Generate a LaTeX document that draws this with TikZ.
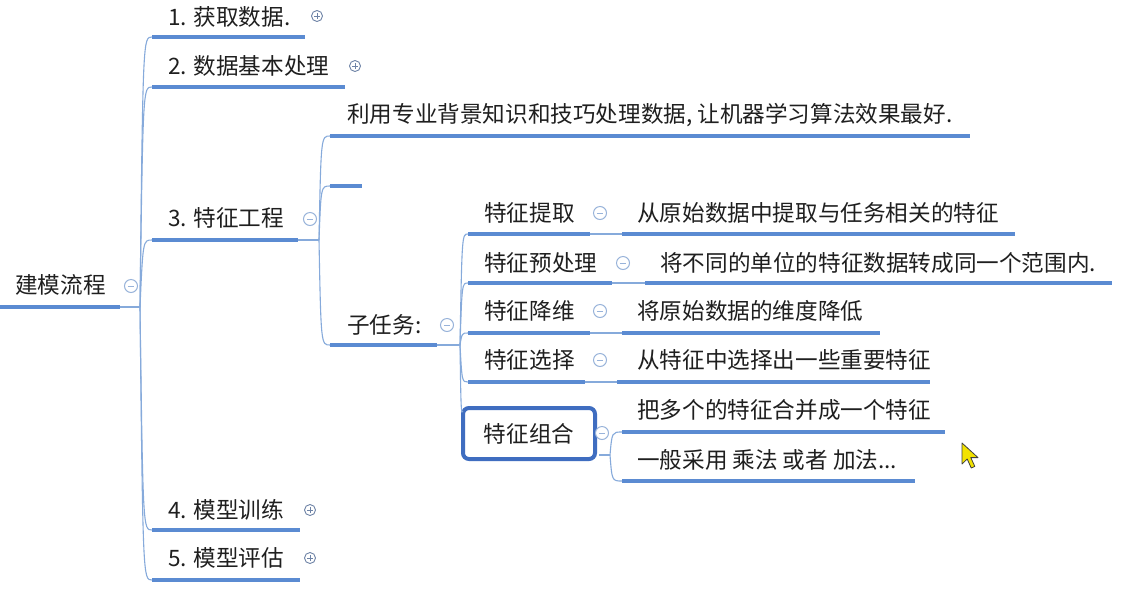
\documentclass[tikz,border=0pt]{standalone}
\usepackage{fontspec}
\setmainfont{Noto Sans CJK SC}
\definecolor{ulc}{HTML}{5B8BD2}
\definecolor{lnc}{HTML}{86AADB}
\definecolor{boxc}{HTML}{3F6DC0}
\definecolor{plc}{HTML}{6E83A6}
\definecolor{mic}{HTML}{98B3DA}
\definecolor{curc}{HTML}{F2E200}
\begin{document}
\begin{tikzpicture}[x=1pt,y=-1pt,
  txt/.style={anchor=west, inner sep=0pt, font=\fontsize{22.6}{26}\selectfont, text=black!88},
  ul/.style={draw=ulc, line width=3.5pt},
  thin/.style={draw=lnc, line width=1.1pt},
  plusicon/.style={circle, draw=plc, fill=white, line width=0.9pt, minimum size=11pt, inner sep=0pt,
    path picture={\draw[plc, line width=0.9pt] ([xshift=-2.8pt]path picture bounding box.center) -- ([xshift=2.8pt]path picture bounding box.center);
                  \draw[plc, line width=0.9pt] ([yshift=-2.8pt]path picture bounding box.center) -- ([yshift=2.8pt]path picture bounding box.center);}},
  minusicon/.style={circle, draw=mic, fill=white, line width=1pt, minimum size=13pt, inner sep=0pt,
    path picture={\draw[mic, line width=1pt] ([xshift=-3.2pt]path picture bounding box.center) -- ([xshift=3.2pt]path picture bounding box.center);}},
  boxnode/.style={draw=boxc, fill=white, line width=4pt, rounded corners=6pt, minimum width=132pt, minimum height=51pt, inner sep=0pt, font=\fontsize{22.6}{26}\selectfont, text=black!88}
]
\fill[white] (0,0) rectangle (1134,590);
\useasboundingbox (0,0) rectangle (1134,590);

% ---------- root ----------
\node[txt] (r) at (15,285) {建模流程};
\coordinate (r0) at (0,307);
\coordinate (r1) at (120,307);
\coordinate (rj) at (140,307);
\draw[ul] (r0) -- (r1);
\draw[thin] (r1) -- (rj);

% ---------- level 1 ----------
\node[txt] (t1) at (168,17) {1. 获取数据.};
\coordinate (t1s) at (152,37); \coordinate (t1e) at (305,37);
\node[txt] (t2) at (168,66) {2. 数据基本处理};
\coordinate (t2s) at (152,87); \coordinate (t2e) at (345,87);
\node[txt] (t3) at (168,218) {3. 特征工程};
\coordinate (t3s) at (152,240); \coordinate (t3e) at (298,240);
\node[txt] (t4) at (168,510) {4. 模型训练};
\coordinate (t4s) at (152,530); \coordinate (t4e) at (300,530);
\node[txt] (t5) at (168,558) {5. 模型评估};
\coordinate (t5s) at (152,580); \coordinate (t5e) at (300,580);

\foreach \n in {t1,t2,t3,t4,t5}{
  \draw[thin] (rj) .. controls ([xshift=3pt]rj |- \n s) .. (\n s);
  \draw[ul] (\n s) -- (\n e);
}

% ---------- level 2 (under 3) ----------
\coordinate (j3) at (319,240);
\draw[thin] (t3e) -- (j3);
\node[txt] (a) at (347,115) {利用专业背景知识和技巧处理数据, 让机器学习算法效果最好.};
\coordinate (as) at (330,136); \coordinate (ae) at (970,136);
\coordinate (bs) at (330,186); \coordinate (be) at (362,186);
\node[txt] (c) at (347,325) {子任务:};
\coordinate (cs) at (330,345); \coordinate (ce) at (437,345);
\foreach \n in {a,b,c}{
  \draw[thin] (j3) .. controls ([xshift=2pt]j3 |- \n s) .. (\n s);
  \draw[ul] (\n s) -- (\n e);
}

% ---------- level 3 (under 子任务) ----------
\coordinate (jc) at (460,345);
\draw[thin] (ce) -- (jc);

\node[txt] (d1) at (484,213) {特征提取};
\coordinate (d1s) at (468,234); \coordinate (d1e) at (590,234);
\node[txt] (d2) at (484,263) {特征预处理};
\coordinate (d2s) at (468,283); \coordinate (d2e) at (612,283);
\node[txt] (d3) at (484,311) {特征降维};
\coordinate (d3s) at (468,333); \coordinate (d3e) at (590,333);
\node[txt] (d4) at (484,360) {特征选择};
\coordinate (d4s) at (468,382); \coordinate (d4e) at (585,382);
\foreach \n in {d1,d2,d3,d4}{
  \draw[thin] (jc) .. controls ([xshift=2pt]jc |- \n s) .. (\n s);
  \draw[ul] (\n s) -- (\n e);
}
\node[boxnode] (d5) at (529,433.5) {特征组合};
\coordinate (d5in) at (463,412);
\draw[thin] (jc) .. controls ([xshift=1pt]jc |- d5in) .. (d5in);

% ---------- level 4 ----------
\node[txt] (e1) at (637,213) {从原始数据中提取与任务相关的特征};
\coordinate (e1s) at (622,234); \coordinate (e1e) at (1015,234);
\node[txt] (e2) at (660,263) {将不同的单位的特征数据转成同一个范围内.};
\coordinate (e2s) at (645,283); \coordinate (e2e) at (1112,283);
\node[txt] (e3) at (637,311) {将原始数据的维度降低};
\coordinate (e3s) at (622,333); \coordinate (e3e) at (880,333);
\node[txt] (e4) at (637,360) {从特征中选择出一些重要特征};
\coordinate (e4s) at (617,382); \coordinate (e4e) at (930,382);
\draw[thin] (d1e) -- (e1s); \draw[ul] (e1s) -- (e1e);
\draw[thin] (d2e) -- (e2s); \draw[ul] (e2s) -- (e2e);
\draw[thin] (d3e) -- (e3s); \draw[ul] (e3s) -- (e3e);
\draw[thin] (d4e) -- (e4s); \draw[ul] (e4s) -- (e4e);

\node[txt] (f1) at (637,410) {把多个的特征合并成一个特征};
\coordinate (f1s) at (622,432); \coordinate (f1e) at (945,432);
\node[txt] (f2) at (637,460) {一般采用 乘法 或者 加法...};
\coordinate (f2s) at (622,481); \coordinate (f2e) at (915,481);
\coordinate (d5o) at (599,455);
\coordinate (j5) at (610,455);
\draw[thin] (d5o) -- (j5);
\foreach \n in {f1,f2}{
  \draw[thin] (j5) .. controls ([xshift=2pt]j5 |- \n s) .. (\n s);
  \draw[ul] (\n s) -- (\n e);
}

% ---------- icons ----------
\node[minusicon] (ir) at (131,286) {};
\node[plusicon] (i1) at (317,16) {};
\node[plusicon] (i2) at (355,66) {};
\node[minusicon] (i3) at (310,219) {};
\node[plusicon] (i4) at (310,510) {};
\node[plusicon] (i5) at (310,558) {};
\node[minusicon] (ic) at (447,325) {};
\node[minusicon] (id1) at (600,213) {};
\node[minusicon] (id2) at (623,263) {};
\node[minusicon] (id3) at (600,311) {};
\node[minusicon] (id4) at (600,360) {};
\node[minusicon] (id5) at (602,433) {};

% ---------- mouse cursor ----------
\filldraw[fill=curc, draw=black!75, line width=0.8pt, line join=round]
  (962,443) -- ++(0,21) -- ++(5.2,-5) -- ++(4,9) -- ++(3.6,-1.6) -- ++(-4,-8.8) -- ++(7.2,0) -- cycle;
\end{tikzpicture}
\end{document}
